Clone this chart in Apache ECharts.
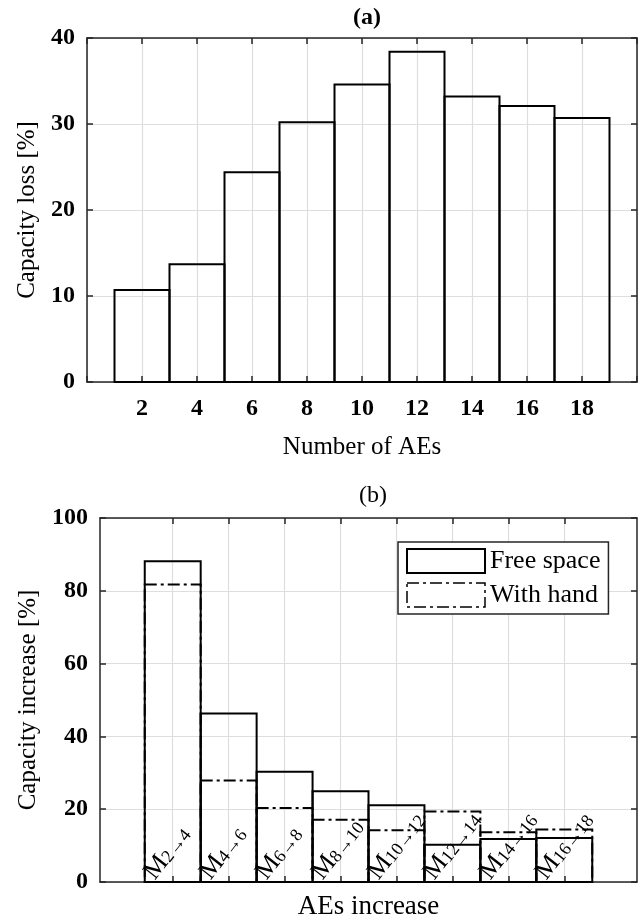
<!DOCTYPE html>
<html>
<head>
<meta charset="utf-8">
<script src="https://cdn.jsdelivr.net/npm/echarts@6/dist/echarts.min.js"></script>
<style>html,body{margin:0;padding:0;background:#fff}#c{width:644px;height:921px}</style>
</head>
<body>
<div id="c"></div>
<script>
// ---- data (a) ----
const aesA = [2, 4, 6, 8, 10, 12, 14, 16, 18];
const lossA = [10.7, 13.7, 24.4, 30.2, 34.6, 38.4, 33.2, 32.1, 30.7];
// ---- data (b) ----
const stepsB = ['2→4', '4→6', '6→8', '8→10', '10→12', '12→14', '14→16', '16→18'];
const freeSpaceB = [88.1, 46.3, 30.3, 24.9, 21.1, 10.2, 11.8, 12.1];
const withHandB = [81.7, 27.9, 20.3, 17.1, 14.2, 19.4, 13.7, 14.4];
const seriesNamesB = ['Free space', 'With hand'];

const FONT = '"Liberation Serif", "DejaVu Serif", serif';
const INK = '#000';
const AX = '#262626';
const GRIDC = '#dedede';
const DASHDOT = [12, 4, 3, 4];

const chart = echarts.init(document.getElementById('c'), null, {renderer: 'canvas'});

function barItem(half, dash, withLabel) {
  return function (params, api) {
    const c = api.value(0), v = api.value(1);
    const p0 = api.coord([c - half, 0]);
    const p1 = api.coord([c + half, v]);
    const rect = {
      type: 'rect',
      shape: {x: p0[0], y: p1[1], width: p1[0] - p0[0], height: p0[1] - p1[1]},
      style: {fill: 'none', stroke: '#000', lineWidth: 2, lineDash: dash || null}
    };
    if (!withLabel) return rect;
    const name = stepsB[params.dataIndex];
    return {
      type: 'group',
      children: [rect, {
        type: 'text',
        x: p0[0] + 14,
        y: p0[1] + 2,
        rotation: 52 * Math.PI / 180,
        z2: 5,
        style: {
          text: '{m|M}{s|' + name + '}',
          align: 'left',
          verticalAlign: 'bottom',
          fill: INK,
          rich: {
            m: {fontFamily: FONT, fontSize: 26, lineHeight: 24, fill: INK},
            s: {fontFamily: FONT, fontSize: 18, lineHeight: 10, verticalAlign: 'bottom', fill: INK}
          }
        }
      }]
    };
  };
}

const tickFont = {fontFamily: FONT, fontSize: 24, fontWeight: 'bold', color: INK};
const nameFont = {fontFamily: FONT, fontSize: 25, color: INK};
const nameFontB = {fontFamily: FONT, fontSize: 27, color: INK};
const xsB = stepsB.map((s, i) => i + 1);

function edgeAxis(extra) {
  return Object.assign({
    axisLine: {show: true, onZero: false, lineStyle: {color: AX, width: 1.5}},
    axisTick: {show: true, inside: true, length: 6, lineStyle: {color: AX, width: 1.5}},
    axisLabel: {show: false}, splitLine: {show: false}
  }, extra);
}

option = {
  animation: false,
  backgroundColor: '#fff',
  title: [
    {text: '(a)', left: 362, top: 1, textAlign: 'center',
     textStyle: {fontFamily: FONT, fontSize: 24, fontWeight: 'bold', color: INK}},
    {text: '(b)', left: 368, top: 479, textAlign: 'center',
     textStyle: {fontFamily: FONT, fontSize: 24, fontWeight: 'normal', color: INK}}
  ],
  grid: [
    {left: 87, right: 7, top: 38, height: 344, containLabel: false},
    {left: 100, right: 7, top: 518, height: 366, containLabel: false}
  ],
  legend: {
    orient: 'vertical',
    left: 398, top: 542,
    itemWidth: 78, itemHeight: 24, itemGap: 8,
    padding: [6, 8, 6, 8],
    backgroundColor: '#fff',
    borderColor: AX, borderWidth: 1.5,
    textStyle: {fontFamily: FONT, fontSize: 26, color: INK},
    data: [
      {name: seriesNamesB[0], icon: 'rect',
       itemStyle: {color: 'transparent', borderColor: '#000', borderWidth: 2}},
      {name: seriesNamesB[1], icon: 'rect',
       itemStyle: {color: 'transparent', borderColor: '#000', borderWidth: 1.5, borderType: DASHDOT}}
    ]
  },
  xAxis: [
    {gridIndex: 0, type: 'value', min: 0, max: 20, interval: 2,
     name: 'Number of AEs', nameLocation: 'middle', nameGap: 53, nameTextStyle: nameFont,
     axisLine: {onZero: false, lineStyle: {color: AX, width: 1.5}},
     axisTick: {inside: true, length: 6, lineStyle: {color: AX, width: 1.5}},
     axisLabel: Object.assign({margin: 15, formatter: v => (v === 0 || v === 20) ? '' : v}, tickFont),
     splitLine: {show: true, lineStyle: {color: GRIDC, width: 1.2}}},
    edgeAxis({gridIndex: 0, type: 'value', position: 'top', min: 0, max: 20, interval: 2}),
    {gridIndex: 1, type: 'value', min: -0.3, max: stepsB.length + 1.3,
     name: 'AEs increase', nameLocation: 'middle', nameGap: 11, nameTextStyle: nameFontB,
     axisLine: {onZero: false, lineStyle: {color: AX, width: 1.5}},
     axisTick: {inside: true, length: 6, lineStyle: {color: AX, width: 1.5}, customValues: xsB},
     axisLabel: {show: false, customValues: xsB},
     splitLine: {show: true, lineStyle: {color: GRIDC, width: 1.2}}},
    edgeAxis({gridIndex: 1, type: 'value', position: 'top', min: -0.3, max: stepsB.length + 1.3,
     axisTick: {show: true, inside: true, length: 6, lineStyle: {color: AX, width: 1.5}, customValues: xsB},
     axisLabel: {show: false, customValues: xsB}})
  ],
  yAxis: [
    {gridIndex: 0, type: 'value', min: 0, max: 40, interval: 10,
     name: 'Capacity loss [%]', nameLocation: 'middle', nameGap: 45, nameRotate: 90, nameTextStyle: nameFont,
     axisLine: {show: true, onZero: false, lineStyle: {color: AX, width: 1.5}},
     axisTick: {show: true, inside: true, length: 6, lineStyle: {color: AX, width: 1.5}},
     axisLabel: Object.assign({margin: 12}, tickFont),
     splitLine: {show: true, lineStyle: {color: GRIDC, width: 1.2}}},
    edgeAxis({gridIndex: 0, type: 'value', position: 'right', min: 0, max: 40, interval: 10}),
    {gridIndex: 1, type: 'value', min: 0, max: 100, interval: 20,
     name: 'Capacity increase [%]', nameLocation: 'middle', nameGap: 56, nameRotate: 90, nameTextStyle: nameFont,
     axisLine: {show: true, onZero: false, lineStyle: {color: AX, width: 1.5}},
     axisTick: {show: true, inside: true, length: 6, lineStyle: {color: AX, width: 1.5}},
     axisLabel: Object.assign({margin: 12}, tickFont),
     splitLine: {show: true, lineStyle: {color: GRIDC, width: 1.2}}},
    edgeAxis({gridIndex: 1, type: 'value', position: 'right', min: 0, max: 100, interval: 20})
  ],
  series: [
    {type: 'custom', name: 'loss', xAxisIndex: 0, yAxisIndex: 0,
     renderItem: barItem(1, null, false),
     data: aesA.map((a, i) => [a, lossA[i]])},
    {type: 'custom', name: seriesNamesB[0], xAxisIndex: 2, yAxisIndex: 2,
     itemStyle: {color: '#000'},
     renderItem: barItem(0.5, null, true),
     data: stepsB.map((s, i) => [xsB[i], freeSpaceB[i]])},
    {type: 'custom', name: seriesNamesB[1], xAxisIndex: 2, yAxisIndex: 2, z: 3,
     itemStyle: {color: '#000'},
     renderItem: barItem(0.5, DASHDOT, false),
     data: stepsB.map((s, i) => [xsB[i], withHandB[i]])}
  ]
};
chart.setOption(option);
</script>
</body>
</html>
